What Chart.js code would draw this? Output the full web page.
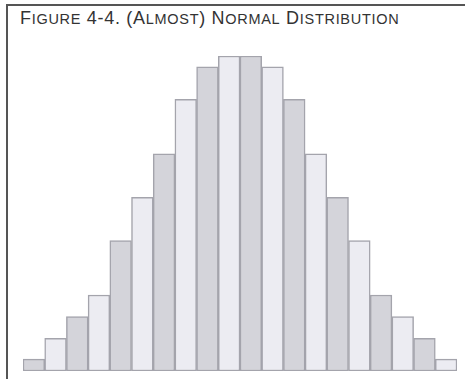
<!DOCTYPE html>
<html lang="en">
<head>
<meta charset="UTF-8">
<title>(Almost) Normal Distribution</title>
<script src="https://cdn.jsdelivr.net/npm/chart.js"></script>
<style>
    html, body { margin: 0; padding: 0; background: #fff; }
    .marco {
        position: relative;
        width: 465px;
        height: 379px;
        overflow: hidden;
    }
    .borde {
        position: absolute;
        left: 6px;
        top: 4px;
        width: 470px;
        height: 390px;
        border-left: 2px solid #555;
        border-top: 2px solid #555;
    }
    .titulo {
        position: absolute;
        left: 20px;
        top: 8px;
        font-family: "Liberation Sans", Arial, sans-serif;
        font-size: 18px;
        letter-spacing: 0.7px;
        color: #333;
        white-space: nowrap;
    }
    .titulo .sc { font-size: 14.5px; }
    #grafico { position: absolute; left: 0; top: 0; }
</style>
</head>
<body>
<div class="marco">
    <div class="borde"></div>
    <div class="titulo">F<span class="sc">IGURE</span> 4-4. (A<span class="sc">LMOST</span>) N<span class="sc">ORMAL</span> D<span class="sc">ISTRIBUTION</span></div>
    <canvas id="grafico" width="465" height="379"></canvas>
</div>

<script>
    // datos
    const categorias = ['1', '2', '3', '4', '5', '6', '7', '8', '9', '10',
        '11', '12', '13', '14', '15', '16', '17', '18', '19', '20'];
    const frecuencias = [1.1, 3, 5, 7, 12, 16, 20, 25, 28, 29,
        29, 28, 25, 20, 16, 12, 7, 5, 3, 1.1];

    const oscuro = '#d4d4da';
    const claro = '#ececf2';
    const colores = categorias.map((c, i) => i % 2 === 0 ? oscuro : claro);

    const ctx = document.getElementById('grafico').getContext('2d');
    new Chart(ctx, {
        type: 'bar',
        data: {
            labels: categorias,
            datasets: [{
                data: frecuencias,
                backgroundColor: colores,
                borderColor: '#a4a4ac',
                borderWidth: 1.5,
                borderSkipped: false,
                barPercentage: 1,
                categoryPercentage: 1
            }]
        },
        options: {
            responsive: false,
            animation: false,
            layout: { padding: { left: 23, right: 8, top: 56, bottom: 8 } },
            plugins: {
                legend: { display: false },
                tooltip: { enabled: false }
            },
            scales: {
                x: { display: false },
                y: { display: false, min: 0, max: 29 }
            }
        }
    });
</script>
</body>
</html>
